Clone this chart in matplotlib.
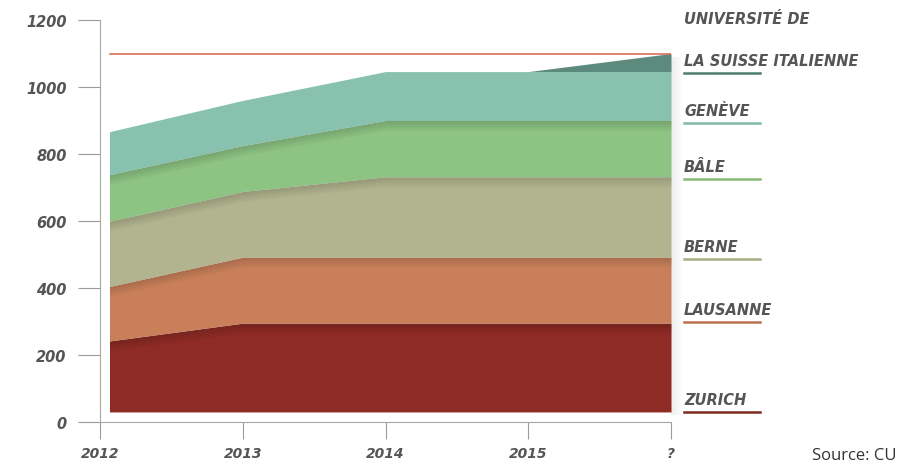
import matplotlib.pyplot as plt
from matplotlib.patches import Rectangle
import numpy as np

# values (students per university, stacked)
years = ["2012", "2013", "2014", "2015", "?"]
zurich = [208, 265, 265, 265, 265]
lausanne = [160, 197, 197, 197, 197]
berne = [195, 196, 240, 240, 240]
bale = [139, 137, 168, 168, 168]
geneve = [128, 135, 146, 146, 146]
usi = [0, 0, 0, 0, 54]
target = 1100

layers = [zurich, lausanne, berne, bale, geneve, usi]
colors = ["#8e2b25", "#c9805a", "#b2b48f", "#8dc383", "#88c2ae", "#5c8b7d"]
line_colors = ["#7e2a22", "#b9704e", "#a9ab85", "#88b977", "#80bba9", "#4f7d70"]
names = ["ZURICH", "LAUSANNE", "BERNE", "BÂLE", "GENÈVE", "LA SUISSE ITALIENNE"]
label_y = [401, 311, 248, 168, 112, 62]   # pixel rows of the right-hand labels
base = 30
gap = 0.07   # blank strip between the axis and the block

W, H = 902, 464
fig = plt.figure(figsize=(W / 100, H / 100), dpi=100)
ax = fig.add_axes([100 / W, 1 - 423 / H, 571 / W, (423 - 21) / H])
ax.set_xlim(0, 4)
ax.set_ylim(0, 1200)

clip = Rectangle((gap, 0), 4 - gap, 1200, transform=ax.transData,
                 fc="none", ec="none")
ax.add_patch(clip)

x = np.arange(len(years))
bottom = np.full(len(years), base, dtype=float)
for vals, c in zip(layers, colors):
    top = bottom + np.array(vals)
    p = ax.fill_between(x, bottom, top, color=c, lw=0, zorder=2)
    p.set_clip_path(clip)
    bottom = top

# soft shading under each band edge
bottom = np.full(len(years), base, dtype=float)
for vals in layers[:4]:
    top = bottom + np.array(vals)
    n = 10
    for i in range(n):
        lo = top - 30 * (i + 1) / n
        hi = top - 30 * i / n
        p = ax.fill_between(x, lo, hi, color="black", alpha=0.15 * (1 - i / n),
                            lw=0, zorder=3)
        p.set_clip_path(clip)
    bottom = top

# shadow right of the block
total = base + np.sum(layers, axis=0)
for i in range(8):
    ax.fill_between([4 + 0.01 * i, 4 + 0.01 * (i + 1)], base - 8, total[-1] - 10,
                    color="black", alpha=0.07 * (1 - i / 8), lw=0,
                    clip_on=False, zorder=1)

ax.plot([gap, x[-1]], [target, target], color="#d8604a", lw=1.1, zorder=4)

ax.set_yticks(range(0, 1201, 200))
ax.set_yticklabels([str(v) for v in range(0, 1201, 200)], fontsize=10.5,
                   fontweight="bold", fontstyle="italic", color="#555555")
ax.set_xticks(x)
ax.set_xticklabels(years, fontsize=10, fontweight="bold", fontstyle="italic",
                   color="#555555")
ax.tick_params(axis="y", length=16, width=0.8, color="#9a9a9a", pad=8)
ax.tick_params(axis="x", length=12, width=0.8, color="#9a9a9a", pad=5)
for s in ["top", "right"]:
    ax.spines[s].set_visible(False)
for s in ["left", "bottom"]:
    ax.spines[s].set_color("#a8a8a8")
    ax.spines[s].set_linewidth(0.8)

# right-hand labels with coloured underlines
fig.text(684 / W, 1 - 20 / H, "UNIVERSITÉ DE", fontsize=10.5, fontweight="bold",
         fontstyle="italic", color="#555555", va="center")
for name, yy, lc in zip(names, label_y, line_colors):
    fig.text(684 / W, 1 - yy / H, name, fontsize=10.5, fontweight="bold",
             fontstyle="italic", color="#555555", va="center")
    fig.add_artist(plt.Line2D([684 / W, 760 / W], [1 - (yy + 12) / H] * 2,
                              color=lc, lw=1.8))

fig.text(812 / W, 1 - 456 / H, "Source: CU", fontsize=12, color="#333333",
         va="center", family="Open Sans")

fig.savefig("out.png", dpi=100)
